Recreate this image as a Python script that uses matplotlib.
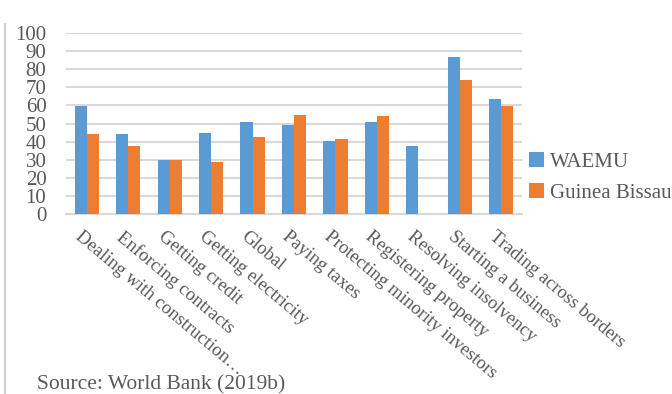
import matplotlib.pyplot as plt
import matplotlib.transforms as mtransforms
import numpy as np

categories = ["Dealing with construction…", "Enforcing contracts", "Getting credit",
              "Getting electricity", "Global", "Paying taxes",
              "Protecting minority investors", "Registering property",
              "Resolving insolvency", "Starting a business", "Trading across borders"]
waemu = [59.5, 44.3, 29.8, 44.7, 50.7, 49.4, 40.3, 51.1, 37.6, 86.6, 63.6]
guinea_bissau = [44.2, 37.6, 30.0, 28.7, 42.5, 54.8, 41.5, 54.2, np.nan, 73.9, 59.5]

plt.rcParams['font.family'] = ['Liberation Serif', 'DejaVu Serif']

fig = plt.figure(figsize=(6.72, 3.94), dpi=100)
ax = fig.add_axes([0.098, 0.457, 0.679, 0.459])

x = np.arange(len(categories))
w = 0.29
b1 = ax.bar(x - w / 2, waemu, w, color="#5B9BD5", label="WAEMU", zorder=3)
b2 = ax.bar(x + w / 2, guinea_bissau, w, color="#ED7D31", label="Guinea Bissau", zorder=3)

ax.set_xlim(-0.5, len(categories) - 0.5)
ax.set_ylim(0, 100)
ax.set_yticks(range(0, 101, 10))
ax.yaxis.grid(True, color="#D9D9D9", linewidth=1.5, zorder=0)
for s in ["top", "right", "left"]:
    ax.spines[s].set_visible(False)
ax.spines["bottom"].set_color("#D9D9D9")
ax.spines["bottom"].set_linewidth(1.5)
ax.tick_params(axis="y", length=0, labelsize=15, labelcolor="#595959", pad=14)
ax.tick_params(axis="x", length=0, labelsize=13.5, labelcolor="#595959", pad=10)

ax.set_xticks(x)
ax.set_xticklabels(categories, rotation=-40, ha="left", va="top", rotation_mode="anchor")
offset = mtransforms.ScaledTranslation(-4 / 100, 0, fig.dpi_scale_trans)
for lbl in ax.get_xticklabels():
    lbl.set_transform(lbl.get_transform() + offset)

fig.legend(handles=[b1, b2], loc="upper left", bbox_to_anchor=(0.775, 0.635),
           frameon=False, fontsize=15, handlelength=0.7, handleheight=0.7,
           handletextpad=0.3, labelspacing=0.55, borderaxespad=0, labelcolor="#595959")

fig.text(0.055, 0.012, "Source: World Bank (2019b)", fontsize=15.5, color="#595959")
fig.add_artist(plt.Line2D([0.008, 0.008], [0, 0.94], color="#D0D0D0", linewidth=1.5,
                          transform=fig.transFigure))

fig.savefig("out.png", dpi=100)
